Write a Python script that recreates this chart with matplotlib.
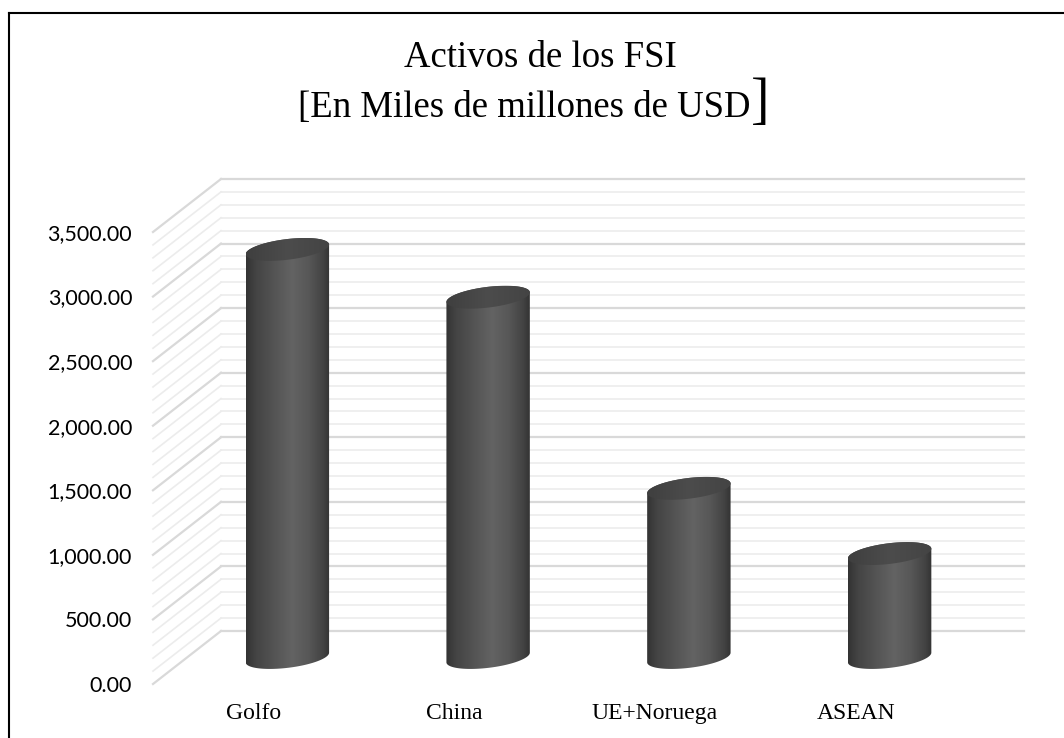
import numpy as np
import matplotlib
matplotlib.use("Agg")
import matplotlib.pyplot as plt
from matplotlib.patches import Polygon
from matplotlib.lines import Line2D
from matplotlib.colors import LinearSegmentedColormap

# ---------------- data ----------------
categories = ["Golfo", "China", "UE+Noruega", "ASEAN"]
values = [3160, 2790, 1310, 805]
y_ticks = [0, 500, 1000, 1500, 2000, 2500, 3000, 3500]
title_line1 = "Activos de los FSI"
title_line2 = "[En Miles de millones de USD"
title_bracket = "]"

# ---------------- layout ----------------
W, H, DPI = 1064, 738, 100
fig = plt.figure(figsize=(W / DPI, H / DPI), dpi=DPI)
fig.patch.set_facecolor("white")

front_left, front_right = 153, 956
front_bottom, front_top = 684, 232
ax = fig.add_axes([front_left / W, (H - front_bottom) / H,
                   (front_right - front_left) / W, (front_bottom - front_top) / H])
ymax = 3500
ax.set_xlim(0, len(categories))
ax.set_ylim(0, ymax)
ax.set_facecolor("none")
for s in ax.spines.values():
    s.set_visible(False)

# px -> data conversion factors
kx = len(categories) / (front_right - front_left)
ky = ymax / (front_bottom - front_top)
DEPTH_PX = (68, 53)
DX = DEPTH_PX[0] * kx
DY = DEPTH_PX[1] * ky

# ---------------- walls / gridlines ----------------
for v in range(0, ymax + 1, 100):
    major = (v % 500 == 0)
    col = "#d9d9d9" if major else "#ececec"
    lw = 1.6 if major else 1.2
    ax.add_line(Line2D([DX, len(categories) + DX], [v + DY, v + DY], color=col, lw=lw,
                       zorder=1, clip_on=False))
    ax.add_line(Line2D([0, DX], [v, v + DY], color=col, lw=lw, zorder=1, clip_on=False))

# ---------------- cylinders ----------------
body_cmap = LinearSegmentedColormap.from_list(
    "cyl", [(0.0, "#333333"), (0.12, "#444444"), (0.35, "#555555"),
            (0.55, "#636363"), (0.75, "#575757"), (0.92, "#434343"), (1.0, "#333333")])
top_cmap = LinearSegmentedColormap.from_list(
    "top", [(0.0, "#3f3f3f"), (0.5, "#4c4c4c"), (1.0, "#444444")])

a_px, b_px, theta = 42.0, 10.3, np.deg2rad(7.0)


def ell(cx, cy, t):
    dxp = a_px * np.cos(t) * np.cos(theta) - b_px * np.sin(t) * np.sin(theta)
    dyp = a_px * np.cos(t) * np.sin(theta) + b_px * np.sin(t) * np.cos(theta)
    return cx + dxp * kx, cy + dyp * ky


t0 = np.arctan2(-b_px * np.sin(theta), a_px * np.cos(theta))
grad = np.linspace(0, 1, 256).reshape(1, -1)

for i, v in enumerate(values):
    cx = i + 0.5 + DX / 2
    y0 = DY / 2
    y1 = v + DY / 2
    tb = np.linspace(np.pi + t0, 2 * np.pi + t0, 100)
    tt = np.linspace(t0, np.pi + t0, 100)
    bx, by = ell(cx, y0, tb)
    tx, tyy = ell(cx, y1, tt)
    pts = np.column_stack([np.concatenate([bx, tx]), np.concatenate([by, tyy])])
    body = Polygon(pts, closed=True, facecolor="none", edgecolor="none", zorder=3)
    ax.add_patch(body)
    im = ax.imshow(grad, cmap=body_cmap, extent=[pts[:, 0].min(), pts[:, 0].max(),
                                                 pts[:, 1].min(), pts[:, 1].max()],
                   aspect="auto", zorder=3, interpolation="bicubic")
    im.set_clip_path(body)
    # top face
    ta = np.linspace(0, 2 * np.pi, 200)
    ex, ey = ell(cx, y1, ta)
    top = Polygon(np.column_stack([ex, ey]), closed=True, facecolor="none",
                  edgecolor="none", zorder=4)
    ax.add_patch(top)
    im2 = ax.imshow(grad, cmap=top_cmap, extent=[ex.min(), ex.max(), ey.min(), ey.max()],
                    aspect="auto", zorder=4, interpolation="bicubic")
    im2.set_clip_path(top)

ax.set_xlim(0, len(categories))
ax.set_ylim(0, ymax)

# ---------------- axes text ----------------
ax.set_yticks(y_ticks)
ax.set_yticklabels([f"{t:,.2f}" for t in y_ticks], fontfamily="Lato", fontsize=15.5,
                   color="#000000")
ax.tick_params(axis="y", length=0, pad=15)
ax.set_xticks([i + 0.5 for i in range(len(categories))])
ax.set_xticklabels(categories, fontfamily="Liberation Serif", fontsize=17, color="#000000")
ax.tick_params(axis="x", length=0, pad=14)

# ---------------- title ----------------
fig.text(540 / W, 1 - 58 / H, title_line1, ha="center", va="center",
         fontfamily="Liberation Serif", fontsize=26.5, color="#000000")
t2 = fig.text(524 / W, 1 - 108 / H, title_line2, ha="center", va="center",
              fontfamily="Liberation Serif", fontsize=26.5, color="#000000")
fig.canvas.draw()
bb = t2.get_window_extent(fig.canvas.get_renderer())
fig.text(bb.x1 / W + 1 / W, 1 - 103 / H, title_bracket, ha="left", va="center",
         fontfamily="Liberation Serif", fontsize=40, color="#000000")

# ---------------- frame ----------------
fig.add_artist(Line2D([9 / W, 9 / W], [0, 1 - 13 / H], color="black", lw=1.5,
                      transform=fig.transFigure))
fig.add_artist(Line2D([9 / W, 1], [1 - 13 / H, 1 - 13 / H], color="black", lw=1.5,
                      transform=fig.transFigure))

fig.savefig("out.png", dpi=DPI)
